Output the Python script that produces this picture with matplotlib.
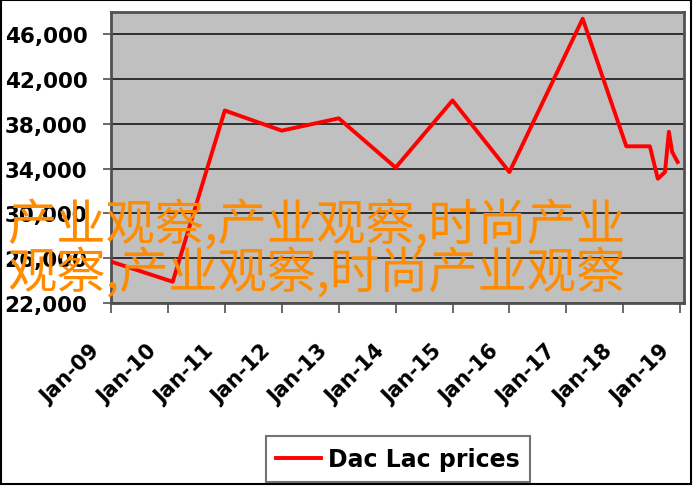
import matplotlib
matplotlib.use("Agg")
import matplotlib.pyplot as plt
import matplotlib.dates as mdates
import matplotlib.transforms as mtransforms
from matplotlib.patches import Rectangle
import pandas as pd

# Data
dates = ['2009-01-01', '2010-02-01', '2011-01-01', '2012-01-01', '2013-01-01',
         '2014-01-01', '2015-01-01', '2016-01-01', '2017-04-15', '2018-01-20',
         '2018-06-20', '2018-08-10', '2018-09-25', '2018-10-20', '2018-11-10',
         '2018-12-15']
prices = [25700, 23900, 39200, 37400, 38500, 34100, 40100, 33700, 47400,
          36000, 36000, 33100, 33700, 37300, 35500, 34600]
series_name = 'Dac Lac prices'
yticks = [22000, 26000, 30000, 34000, 38000, 42000, 46000]
watermark1 = '产业观察,产业观察,时尚产业'
watermark2 = '观察,产业观察,时尚产业观察'

df = pd.DataFrame({'date': pd.to_datetime(dates), 'price': prices})

fig = plt.figure(figsize=(6.94, 4.89), dpi=100)
ax = fig.add_axes([111 / 694, 1 - 304 / 489, 573 / 694, 291 / 489])
ax.set_facecolor('#c0c0c0')

ax.plot(df['date'], df['price'], color='#ff0000', lw=2.8, label=series_name, zorder=3)

ax.set_ylim(22000, 48000)
ax.set_yticks(yticks)
ax.set_yticklabels([f'{v:,}' for v in yticks])
ax.set_xlim(pd.Timestamp('2009-01-01'), pd.Timestamp('2019-01-25'))
ax.xaxis.set_major_locator(mdates.YearLocator())
ax.xaxis.set_major_formatter(mdates.DateFormatter('%b-%y'))

ax.grid(axis='y', color='#303030', lw=1.4)
ax.set_axisbelow(True)
for s in ax.spines.values():
    s.set_color('#505050')
    s.set_linewidth(2)

ax.tick_params(axis='y', direction='out', length=6, width=1.2, color='#505050', pad=11)
ax.tick_params(axis='x', direction='out', length=7, width=1.2, color='#505050', pad=20)
for lab in ax.get_yticklabels():
    lab.set_fontsize(15.5)
    lab.set_fontweight('bold')
offset = mtransforms.ScaledTranslation(-0.07, 0, fig.dpi_scale_trans)
for lab in ax.get_xticklabels():
    lab.set_fontsize(15)
    lab.set_fontweight('bold')
    lab.set_rotation(45)
    lab.set_ha('right')
    lab.set_transform(lab.get_transform() + offset)

leg = fig.legend(loc='center', bbox_to_anchor=(398 / 694, 1 - 460 / 489),
                 frameon=True, fancybox=False, handlelength=1.9,
                 handletextpad=0.3, borderpad=0.45,
                 prop={'size': 17, 'weight': 'bold'})
leg.get_frame().set_edgecolor('#505050')
leg.get_frame().set_linewidth(1.5)

# orange overlay text
fig.text(7 / 694, 1 - 226 / 489, watermark1, color='#ff8c00', fontsize=35.5,
         family=['Noto Sans CJK SC', 'DejaVu Sans'], fontweight='medium',
         va='center', ha='left')
fig.text(7 / 694, 1 - 274 / 489, watermark2, color='#ff8c00', fontsize=35.5,
         family=['Noto Sans CJK SC', 'DejaVu Sans'], fontweight='medium',
         va='center', ha='left')

# outer black frame
fig.patches.append(Rectangle((1 / 694, 4 / 489), 690 / 694, 484 / 489,
                             transform=fig.transFigure, fill=False,
                             ec='black', lw=1.5))

fig.savefig('out.png', dpi=100)
